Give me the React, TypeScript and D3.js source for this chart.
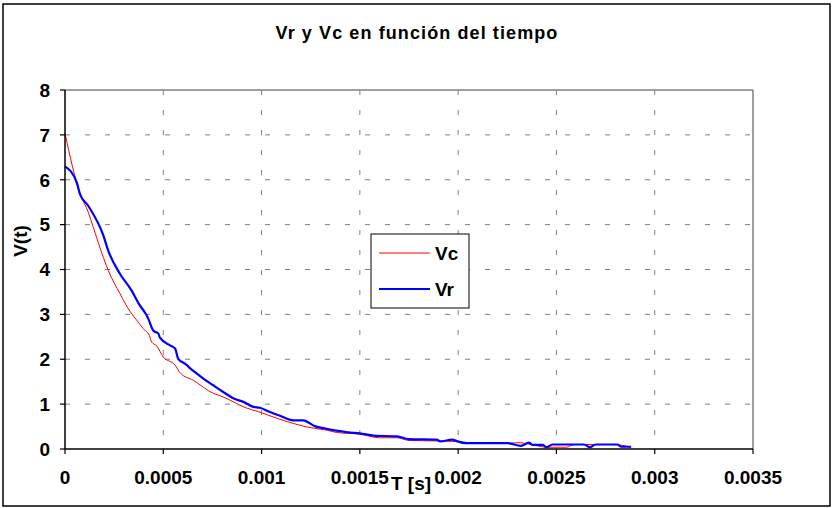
import React from 'react';
import * as d3 from 'd3';

// Vc (rojo)
const vcTime = [0, 0.0000763, 0.000119, 0.000144, 0.000195, 0.00022, 0.00028, 0.00033, 0.000365, 0.000398, 0.000429, 0.000441, 0.000466, 0.0005, 0.00056, 0.000585, 0.000653, 0.000754, 0.000805, 0.000839, 0.000907, 0.000992, 0.001094, 0.001161, 0.001212, 0.00127, 0.00133, 0.00138, 0.0015, 0.0016, 0.00169, 0.00175, 0.00189, 0.00197, 0.00211, 0.00225, 0.00231, 0.00237, 0.00245, 0.00255, 0.00259, 0.00278, 0.00285, 0.00288];
const vcValues = [7.03, 5.69, 5.27, 4.94, 4.27, 3.98, 3.46, 3.07, 2.87, 2.68, 2.53, 2.38, 2.3, 2.05, 1.87, 1.7, 1.53, 1.24, 1.16, 1.09, 0.94, 0.82, 0.66, 0.57, 0.51, 0.46, 0.42, 0.37, 0.33, 0.25, 0.25, 0.19, 0.18, 0.17, 0.13, 0.13, 0.14, 0.1, 0.04, 0.04, 0.1, 0.1, 0.07, 0.04];

// Vr (azul)
const vrTime = [0, 0.0000595, 0.0000763, 0.000118, 0.000195, 0.00022, 0.00028, 0.000339, 0.000375, 0.000415, 0.000424, 0.000449, 0.000475, 0.000483, 0.000534, 0.00056, 0.000576, 0.00061, 0.000653, 0.000704, 0.000754, 0.000805, 0.000856, 0.000907, 0.000958, 0.000992, 0.00104, 0.001094, 0.001161, 0.001212, 0.00127, 0.00132, 0.00138, 0.00144, 0.0015, 0.00157, 0.00169, 0.00175, 0.00189, 0.00191, 0.00197, 0.00199, 0.00204, 0.00225, 0.00232, 0.00236, 0.00238, 0.00243, 0.00245, 0.00248, 0.00264, 0.00267, 0.0027, 0.00281, 0.00283, 0.00288];
const vrValues = [6.3, 5.94, 5.68, 5.42, 4.76, 4.42, 3.9, 3.53, 3.24, 2.98, 2.9, 2.64, 2.57, 2.48, 2.31, 2.24, 2.01, 1.9, 1.74, 1.57, 1.42, 1.27, 1.13, 1.05, 0.94, 0.92, 0.83, 0.74, 0.64, 0.64, 0.51, 0.46, 0.41, 0.37, 0.35, 0.3, 0.28, 0.22, 0.21, 0.17, 0.21, 0.18, 0.13, 0.13, 0.07, 0.14, 0.09, 0.09, 0.04, 0.1, 0.1, 0.04, 0.1, 0.1, 0.05, 0.05];

const xTicks = [0, 0.0005, 0.001, 0.0015, 0.002, 0.0025, 0.003, 0.0035];
const xTickLabels = ['0', '0.0005', '0.001', '0.0015', '0.002', '0.0025', '0.003', '0.0035'];
const yTicks = [0, 1, 2, 3, 4, 5, 6, 7, 8];

const width = 834;
const height = 508;
const plot = { left: 65, right: 753, top: 90, bottom: 449 };
const font = '"Liberation Sans", Arial, sans-serif';

const App: React.FC = () => {
  const x = d3.scaleLinear().domain([0, 0.0035]).range([plot.left, plot.right]);
  const y = d3.scaleLinear().domain([0, 8]).range([plot.bottom, plot.top]);

  const vcLine = d3.line<number>()
    .x((_, i) => x(vcTime[i]))
    .y(d => y(d))
    .curve(d3.curveMonotoneX);
  const vrLine = d3.line<number>()
    .x((_, i) => x(vrTime[i]))
    .y(d => y(d))
    .curve(d3.curveMonotoneX);

  return (
    <svg
      width={width}
      height={height}
      style={{ position: 'absolute', left: 0, top: 0, background: '#fff' }}
      fontFamily={font}
    >
      <rect x={3} y={4} width={827} height={502} fill="#fff" stroke="#000" strokeWidth={1.5} />

      <text x={417} y={39} textAnchor="middle" fontSize={18} fontWeight="bold" letterSpacing={1.1}>
        Vr y Vc en función del tiempo
      </text>

      {/* rejilla */}
      {yTicks.slice(1, -1).map(t => (
        <line key={'gy' + t} x1={plot.left} x2={plot.right} y1={y(t)} y2={y(t)}
          stroke="#808080" strokeWidth={1} strokeDasharray="5,15" />
      ))}
      {xTicks.slice(1, -1).map(t => (
        <line key={'gx' + t} x1={x(t)} x2={x(t)} y1={plot.top} y2={plot.bottom}
          stroke="#808080" strokeWidth={1} strokeDasharray="5,15" />
      ))}

      {/* borde del área */}
      <line x1={plot.left} x2={plot.right} y1={plot.top} y2={plot.top} stroke="#808080" strokeWidth={1.5} />
      <line x1={plot.right} x2={plot.right} y1={plot.top} y2={plot.bottom} stroke="#808080" strokeWidth={1.5} />

      {/* series */}
      <path d={vcLine(vcValues) || ''} fill="none" stroke="#ff0000" strokeWidth={1} />
      <path d={vrLine(vrValues) || ''} fill="none" stroke="#0000ff" strokeWidth={2.2} strokeLinejoin="round" />

      {/* ejes */}
      <line x1={plot.left} x2={plot.left} y1={plot.top} y2={plot.bottom} stroke="#000" strokeWidth={1.5} />
      <line x1={plot.left} x2={plot.right} y1={plot.bottom} y2={plot.bottom} stroke="#000" strokeWidth={1.5} />
      {yTicks.map(t => (
        <g key={'ty' + t}>
          <line x1={plot.left - 5} x2={plot.left} y1={y(t)} y2={y(t)} stroke="#000" strokeWidth={1.2} />
          <text x={50} y={y(t)} dy="0.36em" textAnchor="end" fontSize={19} fontWeight="bold">{t}</text>
        </g>
      ))}
      {xTicks.map((t, i) => (
        <g key={'tx' + t}>
          <line x1={x(t)} x2={x(t)} y1={plot.bottom} y2={plot.bottom + 5} stroke="#000" strokeWidth={1.2} />
          <text x={x(t)} y={484} textAnchor="middle" fontSize={19} fontWeight="bold">{xTickLabels[i]}</text>
        </g>
      ))}

      <text x={411} y={490} textAnchor="middle" fontSize={19} fontWeight="bold">T [s]</text>
      <text transform="translate(27,241) rotate(-90)" textAnchor="middle" fontSize={19} fontWeight="bold">V(t)</text>

      {/* leyenda */}
      <rect x={371} y={234} width={98} height={74} fill="#fff" stroke="#000" strokeWidth={1} />
      <line x1={379} x2={430} y1={253} y2={253} stroke="#ff0000" strokeWidth={1} />
      <text x={435} y={260} fontSize={19} fontWeight="bold">Vc</text>
      <line x1={379} x2={430} y1={289} y2={289} stroke="#0000ff" strokeWidth={2.2} />
      <text x={435} y={296} fontSize={19} fontWeight="bold">Vr</text>
    </svg>
  );
};

export default App;
